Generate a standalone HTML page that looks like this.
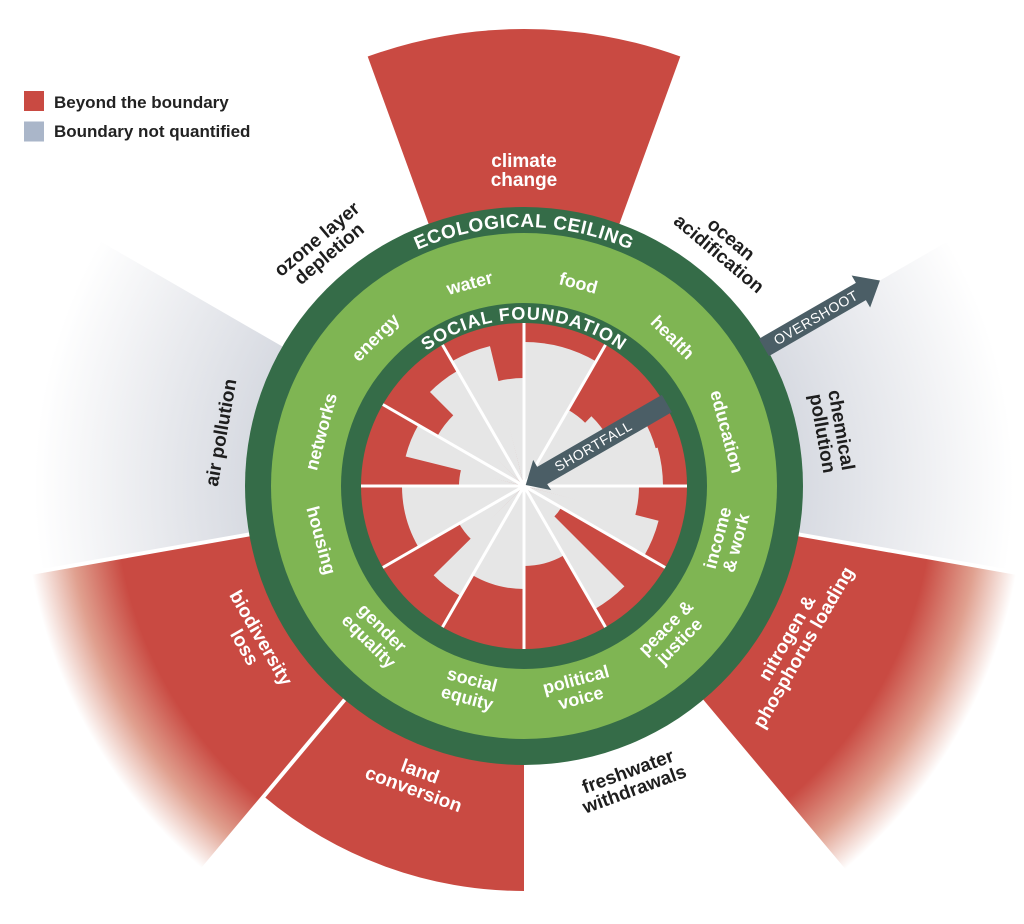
<!DOCTYPE html>
<html>
<head>
<meta charset="utf-8">
<style>
html,body{margin:0;padding:0;background:#fff;width:1024px;height:924px;overflow:hidden;}
svg{display:block;}
</style>
</head>
<body>
<svg width="1024" height="924" viewBox="0 0 1024 924" xmlns="http://www.w3.org/2000/svg" font-family="'Liberation Sans', Arial, sans-serif" style="overflow:hidden">
<defs>
  <radialGradient id="gGrey" gradientUnits="userSpaceOnUse" cx="524" cy="486" r="505">
    <stop offset="0" stop-color="#d6d9e1"/>
    <stop offset="0.555" stop-color="#d8dbe2"/>
    <stop offset="0.79" stop-color="#eeeff2"/>
    <stop offset="0.97" stop-color="#ffffff"/>
    <stop offset="1" stop-color="#ffffff"/>
  </radialGradient>
  <radialGradient id="gRed" gradientUnits="userSpaceOnUse" cx="524" cy="486" r="505">
    <stop offset="0" stop-color="#c94a42"/>
    <stop offset="0.81" stop-color="#c94a42"/>
    <stop offset="0.905" stop-color="#e0a08f"/>
    <stop offset="0.99" stop-color="#ffffff"/>
    <stop offset="1" stop-color="#ffffff"/>
  </radialGradient>
  <path id="arcEco" d="M299.7,356.5 A259,259 0 0,1 748.3,356.5"/>
  <path id="arcSoc" d="M379.81,402.75 A166.5,166.5 0 0,1 668.19,402.75"/>
</defs>

<rect width="1024" height="924" fill="#fff"/>

<!-- outer planetary boundary wedges -->
<path fill="#c94a42" d="M524,486 L367.70,56.56 A457,457 0 0,1 680.30,56.56 Z"/>
<path fill="url(#gGrey)" d="M524,486 L957.01,236 A500,500 0 0,1 1016.41,572.83 Z"/>
<path fill="url(#gRed)" d="M524,486 L1021.33,573.69 A505,505 0 0,1 848.61,872.85 Z"/>
<path fill="#c94a42" d="M524,486 L524,891 A405,405 0 0,1 263.67,796.25 Z"/>
<path fill="url(#gRed)" d="M524,486 L199.39,872.85 A505,505 0 0,1 26.67,573.69 Z"/>
<path fill="url(#gGrey)" d="M524,486 L26.67,573.69 A505,505 0 0,1 86.65,233.5 Z"/>

<!-- separators -->
<g stroke="#fff" stroke-width="4">
  <line x1="798.76" y1="534.45" x2="1024" y2="574.2"/>
  <line x1="344.66" y1="699.73" x2="160.2" y2="920"/>
  <line x1="249.24" y1="534.45" x2="0" y2="578.4"/>
</g>

<!-- rings -->
<circle cx="524" cy="486" r="279" fill="#356c48"/>
<circle cx="524" cy="486" r="253" fill="#7fb553"/>
<circle cx="524" cy="486" r="183" fill="#356c48"/>
<circle cx="524" cy="486" r="163" fill="#c94a42"/>

<!-- social foundation achieved (grey) -->
<g fill="none" stroke="#e6e6e6">
  <circle cx="524" cy="486" r="72" stroke-width="144" stroke-dasharray="38.10 2000" transform="rotate(-90 524 486)"/>
  <circle cx="524" cy="486" r="44" stroke-width="88" stroke-dasharray="11.15 2000" transform="rotate(-60 524 486)"/>
  <circle cx="524" cy="486" r="48.5" stroke-width="97" stroke-dasharray="13.94 2000" transform="rotate(-46 524 486)"/>
  <circle cx="524" cy="486" r="68.5" stroke-width="137" stroke-dasharray="17.14 2000" transform="rotate(-30 524 486)"/>
  <circle cx="524" cy="486" r="69.5" stroke-width="139" stroke-dasharray="19.81 2000" transform="rotate(-16 524 486)"/>
  <circle cx="524" cy="486" r="57.5" stroke-width="115" stroke-dasharray="14.95 2000" transform="rotate(0 524 486)"/>
  <circle cx="524" cy="486" r="69.5" stroke-width="139" stroke-dasharray="19.20 2000" transform="rotate(14.5 524 486)"/>
  <circle cx="524" cy="486" r="21.5" stroke-width="43" stroke-dasharray="6.03 2000" transform="rotate(30 524 486)"/>
  <circle cx="524" cy="486" r="71" stroke-width="142" stroke-dasharray="18.99 2000" transform="rotate(45 524 486)"/>
  <circle cx="524" cy="486" r="40" stroke-width="80" stroke-dasharray="21.34 2000" transform="rotate(60 524 486)"/>
  <circle cx="524" cy="486" r="51.5" stroke-width="103" stroke-dasharray="27.37 2000" transform="rotate(90 524 486)"/>
  <circle cx="524" cy="486" r="63.5" stroke-width="127" stroke-dasharray="17.02 2000" transform="rotate(120 524 486)"/>
  <circle cx="524" cy="486" r="37.5" stroke-width="75" stroke-dasharray="10.22 2000" transform="rotate(135 524 486)"/>
  <circle cx="524" cy="486" r="61" stroke-width="122" stroke-dasharray="32.34 2000" transform="rotate(150 524 486)"/>
  <circle cx="524" cy="486" r="32.5" stroke-width="65" stroke-dasharray="8.34 2000" transform="rotate(180 524 486)"/>
  <circle cx="524" cy="486" r="61" stroke-width="122" stroke-dasharray="17.43 2000" transform="rotate(194 524 486)"/>
  <circle cx="524" cy="486" r="50" stroke-width="100" stroke-dasharray="13.49 2000" transform="rotate(210 524 486)"/>
  <circle cx="524" cy="486" r="66.5" stroke-width="133" stroke-dasharray="17.81 2000" transform="rotate(225 524 486)"/>
  <circle cx="524" cy="486" r="72" stroke-width="144" stroke-dasharray="20.51 2000" transform="rotate(240 524 486)"/>
  <circle cx="524" cy="486" r="54" stroke-width="108" stroke-dasharray="13.60 2000" transform="rotate(256 524 486)"/>
</g>

<!-- white spokes -->
<g stroke="#fff" stroke-width="3">
  <line x1="524" y1="323" x2="524" y2="649"/>
  <line x1="605.5" y1="344.84" x2="442.5" y2="627.16"/>
  <line x1="665.16" y1="404.5" x2="382.84" y2="567.5"/>
  <line x1="361" y1="486" x2="687" y2="486"/>
  <line x1="665.16" y1="567.5" x2="382.84" y2="404.5"/>
  <line x1="605.5" y1="627.16" x2="442.5" y2="344.84"/>
</g>

<!-- arrows -->
<polygon fill="#4b5e66" points="758.89,338.84 855.89,282.84 851.64,275.48 879.94,280.5 870.14,307.52 865.89,300.16 768.89,356.16"/>
<polygon fill="#4b5e66" points="661.89,394.84 537.19,466.84 533.19,459.91 525.73,485 551.19,490.09 547.19,484.16 671.89,412.16"/>
<g transform="translate(815.85,317.5) rotate(-30)"><text x="0" y="5" text-anchor="middle" font-size="14" fill="#fff" letter-spacing="0.6">OVERSHOOT</text></g>
<g transform="translate(593.28,446) rotate(-30)"><text x="0" y="5" text-anchor="middle" font-size="14" fill="#fff" letter-spacing="0.6">SHORTFALL</text></g>

<!-- curved ring titles -->
<text font-size="19" font-weight="bold" fill="#fff" letter-spacing="0.6"><textPath href="#arcEco" startOffset="50%" text-anchor="middle">ECOLOGICAL CEILING</textPath></text>
<text font-size="18" font-weight="bold" fill="#fff" letter-spacing="1"><textPath href="#arcSoc" startOffset="50%" text-anchor="middle">SOCIAL FOUNDATION</textPath></text>

<!-- social foundation labels -->
<g font-size="18" font-weight="bold" fill="#fff" text-anchor="middle">
  <g transform="translate(469.65,283.16) rotate(-15)"><text x="0" y="6">water</text></g>
  <g transform="translate(578.35,283.16) rotate(15)"><text x="0" y="6">food</text></g>
  <g transform="translate(672.49,337.51) rotate(45)"><text x="0" y="6">health</text></g>
  <g transform="translate(726.84,431.65) rotate(75)"><text x="0" y="6">education</text></g>
  <g transform="translate(726.84,540.35) rotate(-75)"><text><tspan x="0" y="-3.5">income</tspan><tspan x="0" y="15.5">&amp; work</tspan></text></g>
  <g transform="translate(672.49,634.49) rotate(-45)"><text><tspan x="0" y="-3.5">peace &amp;</tspan><tspan x="0" y="15.5">justice</tspan></text></g>
  <g transform="translate(578.35,688.84) rotate(-15)"><text><tspan x="0" y="-3.5">political</tspan><tspan x="0" y="15.5">voice</tspan></text></g>
  <g transform="translate(469.65,688.84) rotate(15)"><text><tspan x="0" y="-3.5">social</tspan><tspan x="0" y="15.5">equity</tspan></text></g>
  <g transform="translate(375.51,634.49) rotate(45)"><text><tspan x="0" y="-3.5">gender</tspan><tspan x="0" y="15.5">equality</tspan></text></g>
  <g transform="translate(321.16,540.35) rotate(75)"><text x="0" y="6">housing</text></g>
  <g transform="translate(321.16,431.65) rotate(-75)"><text x="0" y="6">networks</text></g>
  <g transform="translate(375.51,337.51) rotate(-45)"><text x="0" y="6">energy</text></g>
</g>

<!-- planetary boundary labels -->
<g font-size="19" font-weight="bold" text-anchor="middle">
  <g transform="translate(524,170)" fill="#fff"><text><tspan x="0" y="-3">climate</tspan><tspan x="0" y="16">change</tspan></text></g>
  <g transform="translate(725.19,246.23) rotate(40)" fill="#1e1e1e"><text><tspan x="0" y="-3">ocean</tspan><tspan x="0" y="16">acidification</tspan></text></g>
  <g transform="translate(832.25,431.65) rotate(80)" fill="#1e1e1e"><text><tspan x="0" y="-3">chemical</tspan><tspan x="0" y="16">pollution</tspan></text></g>
  <g transform="translate(795.07,642.5) rotate(-60)" fill="#fff"><text><tspan x="0" y="-3">nitrogen &amp;</tspan><tspan x="0" y="16">phosphorus loading</tspan></text></g>
  <g transform="translate(631.05,780.12) rotate(-20)" fill="#1e1e1e"><text><tspan x="0" y="-3">freshwater</tspan><tspan x="0" y="16">withdrawals</tspan></text></g>
  <g transform="translate(416.95,780.12) rotate(20)" fill="#fff"><text><tspan x="0" y="-3">land</tspan><tspan x="0" y="16">conversion</tspan></text></g>
  <g transform="translate(252.93,642.5) rotate(60)" fill="#fff"><text><tspan x="0" y="-3">biodiversity</tspan><tspan x="0" y="16">loss</tspan></text></g>
  <g transform="translate(220.7,432.5) rotate(-80)" fill="#1e1e1e"><text x="0" y="6.5">air pollution</text></g>
  <g transform="translate(322.81,246.23) rotate(-40)" fill="#1e1e1e"><text><tspan x="0" y="-3">ozone layer</tspan><tspan x="0" y="16">depletion</tspan></text></g>
</g>

<!-- legend -->
<rect x="24" y="91" width="20" height="20" fill="#c94a42"/>
<rect x="24" y="121.5" width="20" height="20" fill="#aab6c9"/>
<g font-size="17" font-weight="bold" fill="#222">
  <text x="54" y="108">Beyond the boundary</text>
  <text x="54" y="137">Boundary not quantified</text>
</g>
</svg>
</body>
</html>
